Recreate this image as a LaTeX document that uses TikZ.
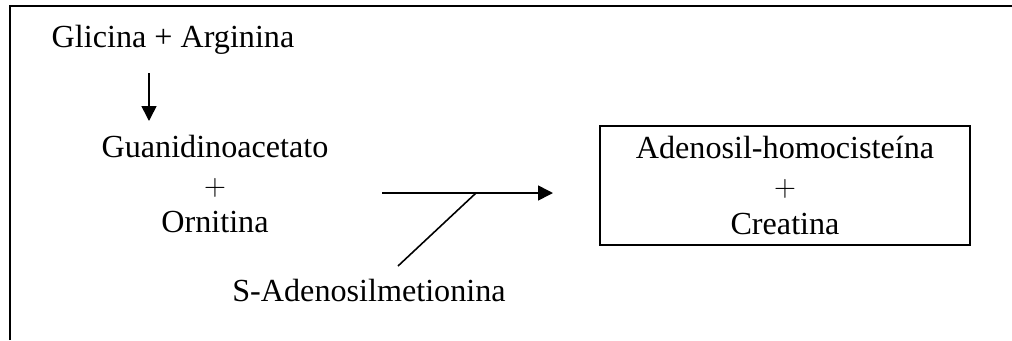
\documentclass[tikz,border=0pt]{standalone}
\usepackage{fontspec}
\setmainfont{Liberation Serif}
\usetikzlibrary{arrows.meta}
\tikzset{
	txt/.style={font=\fontsize{18.3}{21.5}\selectfont, inner sep=0pt, align=center},
	reac/.style={-{Triangle[length=0.3cm,width=0.3cm]}, line width=0.9pt}
}
\begin{document}
\begin{tikzpicture}
		\useasboundingbox (0,0) rectangle (20.24,6.8);
		\draw[line width=1.1pt] (0.2,0) -- (0.2,6.68) -- (20.24,6.68);

		\node[txt] (glic) at (3.46,6.0) {Glicina + Arginina};
		\node[txt] (guan) at (4.3,3.12) {Guanidinoacetato\\$+$\\Ornitina};
		\node[txt] (sam) at (7.38,1.0) {S-Adenosilmetionina};
		\node[txt, draw, line width=0.8pt, minimum width=7.4cm, minimum height=2.38cm] (prod) at (15.7,3.09) {Adenosil-homocisteína\\$+$\\Creatina};

		\coordinate (a1) at (2.98,5.34);
		\coordinate (a2) at (2.98,4.38);
		\coordinate (b1) at (7.64,2.94);
		\coordinate (b2) at (11.06,2.94);
		\coordinate (j) at (9.52,2.94);
		\coordinate (s) at (7.96,1.48);

		\draw[reac] (a1) -- (a2);
		\draw[reac] (b1) -- (b2);
		\draw[line width=0.9pt] (s) -- (j);
	\end{tikzpicture}
\end{document}
